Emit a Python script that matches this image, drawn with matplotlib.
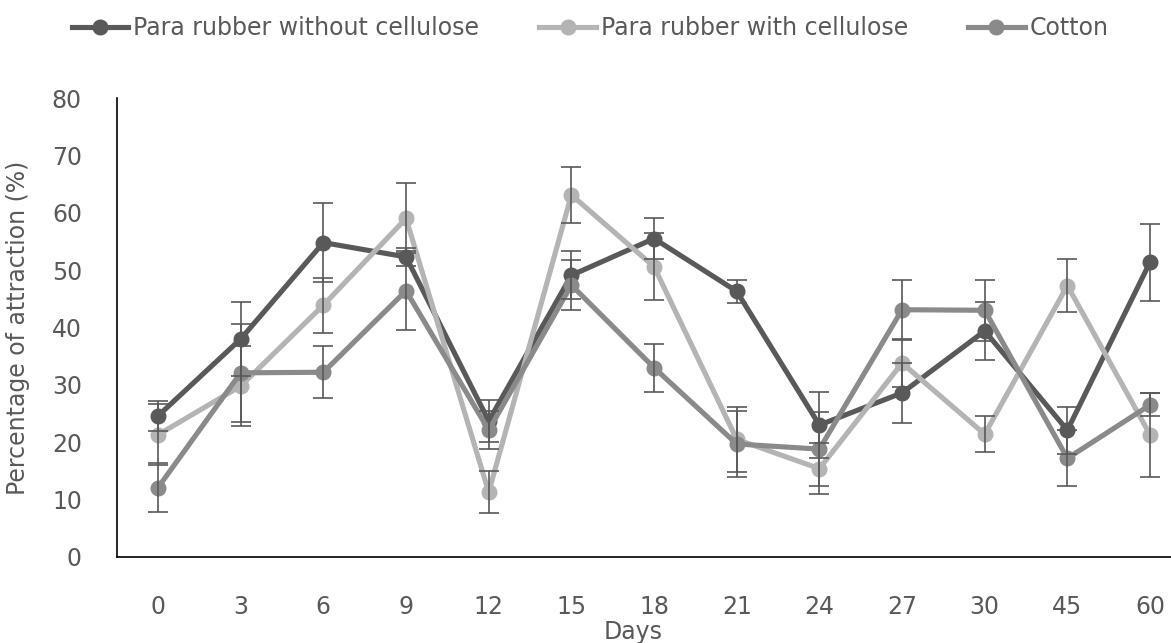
import numpy as np
import matplotlib
matplotlib.use("Agg")
import matplotlib.pyplot as plt

# attraction (%) per sampling day, mean and error for each material
days = ['0', '3', '6', '9', '12', '15', '18', '21', '24', '27', '30', '45', '60']

without_cell = [24.6, 38.0, 54.8, 52.3, 23.7, 49.1, 55.5, 46.3, 23.0, 28.6, 39.4, 22.1, 51.4]
without_cell_err = [2.6, 6.5, 6.9, 1.5, 3.6, 4.2, 3.5, 2.0, 5.8, 5.2, 5.0, 4.1, 6.7]

with_cell = [21.3, 29.8, 43.9, 59.0, 11.3, 63.1, 50.6, 20.5, 15.4, 33.8, 21.4, 47.3, 21.3]
with_cell_err = [5.3, 6.9, 4.8, 6.1, 3.7, 4.9, 5.8, 5.7, 4.5, 4.2, 3.1, 4.6, 7.3]

cotton = [12.1, 32.1, 32.2, 46.4, 22.1, 47.4, 33.0, 19.7, 18.8, 43.1, 43.0, 17.2, 26.5]
cotton_err = [4.3, 8.5, 4.5, 6.9, 3.3, 4.4, 4.2, 5.8, 6.4, 5.2, 5.3, 4.9, 2.0]

labels = ['Para rubber without cellulose', 'Para rubber with cellulose', 'Cotton']
colors = ['#595959', '#b4b4b4', '#8a8a8a']
text_col = '#595959'
fs = 17

plt.rcParams['font.family'] = ['DejaVu Sans']
plt.rcParams['font.size'] = fs

fig = plt.figure(figsize=(11.71, 6.43), dpi=100)
ax = fig.add_axes([116.7 / 1171, 86 / 643, 1074.7 / 1171, 459 / 643])

x = np.arange(len(days))
series = [(without_cell, without_cell_err), (with_cell, with_cell_err), (cotton, cotton_err)]

for i, (vals, err) in enumerate(series):
    ax.plot(x, vals, color=colors[i], lw=3.7, marker='o', ms=10.5,
            label=labels[i], zorder=2 + i, solid_joinstyle='round')
for i, (vals, err) in enumerate(series):
    ax.errorbar(x, vals, yerr=err, fmt='none', ecolor='#595959',
                elinewidth=1.2, capsize=7.5, capthick=1.2, zorder=6)

ax.set_xlim(-0.5, 12.5)
ax.set_ylim(0, 80)
ax.set_yticks(range(0, 81, 10))
ax.set_xticks(x, days)

for side in ['top', 'right']:
    ax.spines[side].set_visible(False)
for side in ['left', 'bottom']:
    ax.spines[side].set_color('black')
    ax.spines[side].set_linewidth(1.2)

ax.tick_params(axis='both', length=0, colors=text_col, labelsize=fs)
ax.tick_params(axis='y', pad=25)
ax.tick_params(axis='x', pad=27)

ax.set_ylabel('Percentage of attraction (%)', color=text_col, fontsize=fs, labelpad=16)
fig.text(633 / 1171, 11 / 643, 'Days', color=text_col, fontsize=fs,
         ha='center', va='center')

leg = fig.legend(loc='center', bbox_to_anchor=(590 / 1171, 1 - 28 / 643), ncol=3,
                 frameon=False, handlelength=2.4, handletextpad=0.2,
                 columnspacing=2.55, fontsize=fs)
for t in leg.get_texts():
    t.set_color(text_col)

fig.savefig('out.png', dpi=100)
